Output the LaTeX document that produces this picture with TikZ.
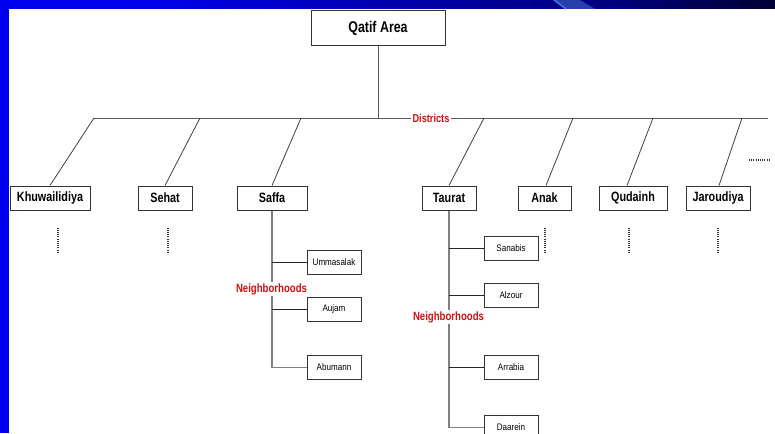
\documentclass[tikz,border=0pt]{standalone}
\usepackage{fontspec}
\setmainfont{Liberation Sans}
\newfontfamily\narrowf{Liberation Sans}[FakeStretch=0.8]
\newfontfamily\smallf{Liberation Sans}[FakeStretch=0.85]
\usetikzlibrary{calc}

\definecolor{tagred}{RGB}{204,17,17}
\definecolor{barblue}{RGB}{0,0,240}
\definecolor{streakblue}{RGB}{40,64,170}
\definecolor{streakedge}{RGB}{70,110,230}

% top bar: bright blue fading to navy (path spans 25bp..75bp)
\pgfdeclarehorizontalshading{barshade}{100bp}{%
  rgb(0bp)=(0,0,0.94); rgb(25bp)=(0,0,0.94); rgb(34bp)=(0,0,0.92);
  rgb(56bp)=(0,0,0.6); rgb(64bp)=(0,0,0.5); rgb(75bp)=(0,0,0.2);
  rgb(100bp)=(0,0,0.2)}

\tikzset{
  titlebox/.style={draw=black!80, line width=1pt, fill=white,
    minimum width=134pt, minimum height=35pt, inner sep=0pt,
    font=\narrowf\bfseries\fontsize{15.5}{18}\selectfont},
  distbox/.style={draw=black!80, line width=1pt, fill=white,
    minimum height=24pt, inner sep=0pt,
    font=\narrowf\bfseries\fontsize{13.5}{16}\selectfont},
  nbox/.style={draw=black!80, line width=1pt, fill=white,
    minimum width=54pt, minimum height=24pt, inner sep=0pt,
    font=\smallf\fontsize{9.5}{11}\selectfont},
  rail/.style={draw=black!65, line width=1pt},
  link/.style={draw=black!75, line width=0.8pt},
  trunk/.style={draw=black!50, line width=1.3pt},
  branch/.style={draw=black!85, line width=1pt},
  tag/.style={text=tagred, fill=white, inner sep=1.5pt,
    font=\narrowf\bfseries\fontsize{12}{14}\selectfont},
  more/.style={draw=black!80, line width=1.4pt, dash pattern=on 1pt off 1.2pt},
}

\begin{document}
\begin{tikzpicture}[x=1pt,y=-1pt]
\useasboundingbox (0,0) rectangle (775,433);

% frame
\fill[white] (0,0) rectangle (775,433);
\shade[shading=barshade] (0,0) rectangle (775,9);
\fill[streakblue] (553,0) -- (580,0) -- (595,9) -- (565,9) -- cycle;
\draw[streakedge, line width=1.5pt] (554,0) -- (566,9);
\fill[barblue] (0,0) rectangle (8.5,433);

% root
\node[titlebox] (qatif) at (378,28.5) {Qatif Area};

% districts rail
\coordinate (hl) at (94,118);
\coordinate (hr) at (768,118);
\draw[rail] (hl) -- (hr);
\draw[rail] (qatif.south) -- (qatif.south |- hl);
\node[tag, font=\narrowf\bfseries\fontsize{11.5}{14}\selectfont] (districts) at (431,118) {Districts};

% district boxes
\node[distbox, minimum width=80pt] (khu) at (50,198) {Khuwailidiya};
\node[distbox, minimum width=54pt] (seh) at (165,198) {Sehat};
\node[distbox, minimum width=70pt] (saf) at (272,198) {Saffa};
\node[distbox, minimum width=54pt] (tau) at (449,198) {Taurat};
\node[distbox, minimum width=53pt] (ana) at (544.5,198) {Anak};
\node[distbox, minimum width=68pt] (qud) at (633,198) {Qudainh};
\node[distbox, minimum width=64pt] (jar) at (718,198) {Jaroudiya};

% slanted links from the rail
\coordinate (rk) at (94,118);
\coordinate (rs) at (200,118);
\coordinate (rf) at (301,118);
\coordinate (rt) at (484,118);
\coordinate (ra) at (573,118);
\coordinate (rq) at (653,118);
\coordinate (rj) at (742,118);
\draw[link] (rk) -- (khu.north);
\draw[link] (rs) -- (seh.north);
\draw[link] (rf) -- (saf.north);
\draw[link] (rt) -- (tau.north);
\draw[link] (ra) -- ([xshift=1.5pt]ana.north);
\draw[link] (rq) -- ([xshift=-6pt]qud.north);
\draw[link] (rj) -- ([xshift=1pt]jar.north);

% continuation marks
\draw[more] (749,160) -- (771,160);
\draw[more] ($(khu.south)+(8,17)$) -- ++(0,25);
\draw[more] ($(seh.south)+(3,17)$) -- ++(0,25);
\draw[more] ($(ana.south)+(0.5,17)$) -- ++(0,25);
\draw[more] ($(qud.south)+(-4,17)$) -- ++(0,25);
\draw[more] ($(jar.south)+(0,17)$) -- ++(0,25);

% Saffa neighborhoods
\node[nbox] (umm) at (334,262) {Ummasalak};
\node[nbox] (auj) at (334,309) {Aujam};
\node[nbox] (abu) at (334,367.5) {Abumann};
\draw[trunk] (saf.south) -- (saf.south |- abu.west) -- (abu.west);
\draw[branch] (saf.south |- umm.west) -- (umm.west);
\draw[branch] (saf.south |- auj.west) -- (auj.west);
\node[tag] (nsaf) at (271.5,289) {Neighborhoods};

% Taurat neighborhoods
\node[nbox] (san) at (511,248) {Sanabis};
\node[nbox] (alz) at (511,295) {Alzour};
\node[nbox] (arr) at (511,367.5) {Arrabia};
\node[nbox] (daa) at (511,427.5) {Daarein};
\draw[trunk] (tau.south) -- (tau.south |- daa.west) -- (daa.west);
\draw[branch] (tau.south |- san.west) -- (san.west);
\draw[branch] (tau.south |- alz.west) -- (alz.west);
\draw[branch] (tau.south |- arr.west) -- (arr.west);
\node[tag] (ntau) at (448.5,317) {Neighborhoods};
\end{tikzpicture}
\end{document}
